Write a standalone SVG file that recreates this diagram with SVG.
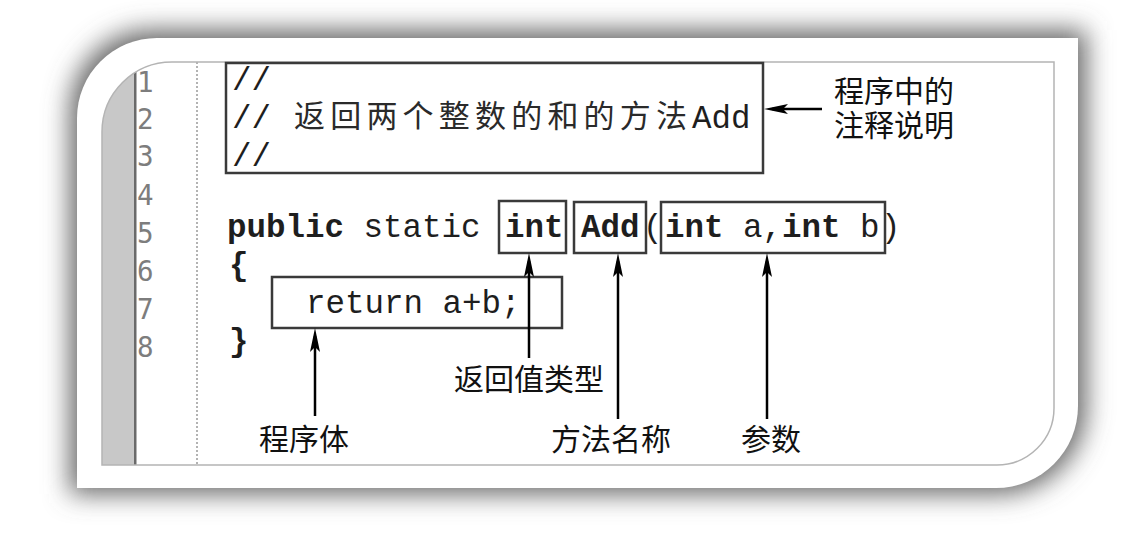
<svg xmlns="http://www.w3.org/2000/svg" width="1146" height="541" viewBox="0 0 1146 541">
  <defs>
    <style>
      .code { font-family: "Liberation Mono", "Courier New", monospace; font-size: 32.5px; fill: #1e1e1e; }
      .b { font-weight: bold; }
      .cjk { font-family: "Noto Sans CJK SC", sans-serif; fill: #2a2a2a; }
      .lab { font-family: "Noto Sans CJK SC", sans-serif; font-size: 30px; fill: #111; }
      .ln { font-family: "DejaVu Sans Mono", monospace; font-size: 27.5px; fill: #7d7d7d; }
      .box { fill: none; stroke: #3a3a3a; stroke-width: 2.5; }
      .arr { fill: none; stroke: #000; stroke-width: 2.5; marker-end: url(#ah); }
    </style>
    <marker id="ah" markerUnits="userSpaceOnUse" markerWidth="26" markerHeight="14" refX="16" refY="6" orient="auto" overflow="visible">
      <path d="M0,1 L24,6 L0,11 L5,6 Z" fill="#000"/>
    </marker>
    <filter id="sh" x="-10%" y="-20%" width="120%" height="140%">
      <feGaussianBlur stdDeviation="13"/>
    </filter>
    <clipPath id="page">
      <rect x="0" y="0" width="1130" height="533"/>
    </clipPath>
    <clipPath id="panelclip">
      <path d="M172 62 H1054 V408 A57 57 0 0 1 997 465 H102 V132 A70 70 0 0 1 172 62 Z"/>
    </clipPath>
  </defs>

  <rect x="0" y="0" width="1146" height="541" fill="#fff"/>

  <!-- card with shadow -->
  <g id="card">
    <g clip-path="url(#page)">
      <path d="M152 30 H1086 V406 A88 88 0 0 1 998 494 H70 V112 A82 82 0 0 1 152 30 Z" fill="#666" filter="url(#sh)"/>
    </g>
    <path d="M157 38 H1078 V406 A82 82 0 0 1 996 488 H77 V118 A80 80 0 0 1 157 38 Z" fill="#fff"/>
  </g>

  <!-- editor panel -->
  <g id="editor">
    <path d="M172 62 H1054 V408 A57 57 0 0 1 997 465 H102 V132 A70 70 0 0 1 172 62 Z" fill="#fff"/>
    <g clip-path="url(#panelclip)">
      <rect x="100" y="60" width="34" height="410" fill="#c8c8c8"/>
      <rect x="134" y="60" width="2.5" height="410" fill="#6a6a6a"/>
    </g>
    <line x1="197" y1="62" x2="197" y2="465" stroke="#9a9a9a" stroke-width="1.5" stroke-dasharray="2 2"/>
    <path d="M172 62 H1054 V408 A57 57 0 0 1 997 465 H102 V132 A70 70 0 0 1 172 62 Z" fill="none" stroke="#b4b4b4" stroke-width="1.5"/>
  </g>

  <!-- line numbers -->
  <g id="line-numbers" class="ln">
    <text x="137" y="92">1</text>
    <text x="137" y="129">2</text>
    <text x="137" y="166">3</text>
    <text x="137" y="205">4</text>
    <text x="137" y="243">5</text>
    <text x="137" y="281">6</text>
    <text x="137" y="319">7</text>
    <text x="137" y="357">8</text>
  </g>

  <!-- code -->
  <g id="code">
    <text class="code" x="232" y="90">//</text>
    <text class="code" x="232" y="128">//</text>
    <text class="cjk" x="294" y="127" font-size="31" letter-spacing="5.2">返回两个整数的和的方法</text>
    <text class="code" x="692" y="128">Add</text>
    <text class="code" x="232" y="166">//</text>

    <text class="code" x="227" y="237"><tspan class="b">public</tspan> static</text>
    <text class="code b" x="505" y="237">int</text>
    <text class="code b" x="581" y="237">Add</text>
    <text class="code" x="643" y="237">(</text>
    <text class="code" x="665" y="237"><tspan class="b">int</tspan> a,<tspan class="b">int</tspan> b</text>
    <text class="code" x="881" y="237">)</text>

    <text class="code b" x="229" y="275">{</text>
    <text class="code" x="306" y="313">return a+b;</text>
    <text class="code b" x="229" y="351">}</text>
  </g>

  <!-- highlight boxes -->
  <g id="comment-box"><rect class="box" x="226" y="63" width="537" height="110"/></g>
  <g id="int-box"><rect class="box" x="499" y="201" width="67" height="52"/></g>
  <g id="add-box"><rect class="box" x="574" y="202" width="72" height="51"/></g>
  <g id="params-box"><rect class="box" x="661" y="202" width="224" height="51"/></g>
  <g id="body-box"><rect class="box" x="272" y="277" width="290" height="51"/></g>

  <!-- connectors -->
  <g id="connectors">
    <line class="arr" x1="822" y1="109" x2="772" y2="109"/>
    <line class="arr" x1="315" y1="416" x2="315" y2="336"/>
    <line class="arr" x1="529" y1="358" x2="529" y2="261"/>
    <line class="arr" x1="618" y1="419" x2="618" y2="261"/>
    <line class="arr" x1="767" y1="419" x2="767" y2="261"/>
  </g>

  <!-- labels -->
  <g id="label-comment">
    <text class="lab" x="834" y="102">程序中的<tspan x="834" y="136">注释说明</tspan></text>
  </g>
  <g id="label-return-type"><text class="lab" x="454" y="390" font-size="31">返回值类型</text></g>
  <g id="label-body"><text class="lab" x="259" y="450">程序体</text></g>
  <g id="label-method-name"><text class="lab" x="551" y="450">方法名称</text></g>
  <g id="label-params"><text class="lab" x="741" y="450">参数</text></g>
</svg>
